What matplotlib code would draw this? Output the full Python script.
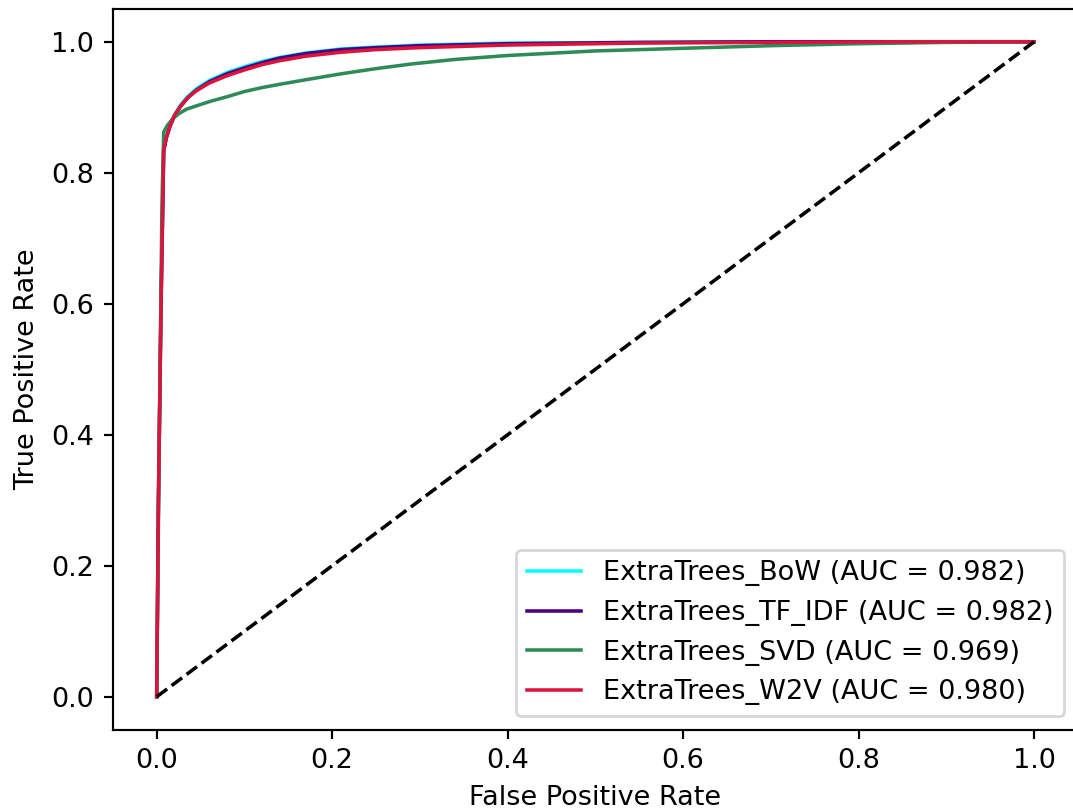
import matplotlib
matplotlib.use("Agg")
import matplotlib.pyplot as plt

# ROC curve points
fpr_bow = [0.0, 0.002, 0.005, 0.008, 0.011, 0.015, 0.02, 0.027, 0.035, 0.045, 0.06, 0.08, 0.10, 0.12, 0.14, 0.17, 0.21, 0.25, 0.30, 0.40, 0.55, 0.70, 0.85, 1.0]
tpr_bow = [0.0, 0.30, 0.60, 0.835, 0.855, 0.872, 0.888, 0.903, 0.916, 0.928, 0.941, 0.953, 0.962, 0.970, 0.976, 0.983, 0.989, 0.992, 0.995, 0.998, 0.999, 1.0, 1.0, 1.0]

fpr_tfidf = [0.0, 0.002, 0.005, 0.008, 0.011, 0.015, 0.02, 0.027, 0.035, 0.045, 0.06, 0.08, 0.10, 0.12, 0.14, 0.17, 0.21, 0.25, 0.30, 0.40, 0.55, 0.70, 0.85, 1.0]
tpr_tfidf = [0.0, 0.30, 0.60, 0.833, 0.853, 0.870, 0.886, 0.901, 0.914, 0.926, 0.939, 0.951, 0.960, 0.968, 0.975, 0.982, 0.988, 0.991, 0.994, 0.997, 0.999, 1.0, 1.0, 1.0]

fpr_svd = [0.0, 0.003, 0.006, 0.008, 0.012, 0.018, 0.025, 0.034, 0.045, 0.061, 0.08, 0.10, 0.12, 0.14, 0.17, 0.21, 0.25, 0.29, 0.34, 0.40, 0.50, 0.60, 0.70, 0.80, 0.90, 1.0]
tpr_svd = [0.0, 0.40, 0.75, 0.862, 0.872, 0.882, 0.890, 0.897, 0.902, 0.909, 0.916, 0.924, 0.930, 0.935, 0.942, 0.951, 0.959, 0.966, 0.973, 0.979, 0.986, 0.990, 0.994, 0.997, 0.999, 1.0]

fpr_w2v = [0.0, 0.002, 0.005, 0.008, 0.011, 0.015, 0.02, 0.027, 0.035, 0.045, 0.06, 0.08, 0.10, 0.12, 0.14, 0.17, 0.21, 0.25, 0.30, 0.40, 0.55, 0.70, 0.85, 1.0]
tpr_w2v = [0.0, 0.30, 0.60, 0.834, 0.854, 0.871, 0.887, 0.901, 0.914, 0.925, 0.937, 0.948, 0.957, 0.965, 0.971, 0.978, 0.984, 0.988, 0.991, 0.995, 0.998, 0.999, 1.0, 1.0]

labels = ["ExtraTrees_BoW (AUC = 0.982)",
          "ExtraTrees_TF_IDF (AUC = 0.982)",
          "ExtraTrees_SVD (AUC = 0.969)",
          "ExtraTrees_W2V (AUC = 0.980)"]
colors = ["cyan", "indigo", "seagreen", "crimson"]

dpi = 195
fig = plt.figure(figsize=(1073 / dpi, 811 / dpi), dpi=dpi)
W, H = 1073, 811
ax = fig.add_axes([112.8 / W, 1 - 729.5 / H, (1078 - 112.8) / W, (729.5 - 9.0) / H])

series = [(fpr_bow, tpr_bow), (fpr_tfidf, tpr_tfidf), (fpr_svd, tpr_svd), (fpr_w2v, tpr_w2v)]
for (f, t), lab, c in zip(series, labels, colors):
    ax.plot(f, t, color=c, label=lab, lw=1.3)
ax.plot([0, 1], [0, 1], "k--", lw=1.3)
ax.set_xlabel("False Positive Rate")
ax.set_ylabel("True Positive Rate")
ax.legend(loc="lower right")
fig.savefig("out.png", dpi=dpi)
